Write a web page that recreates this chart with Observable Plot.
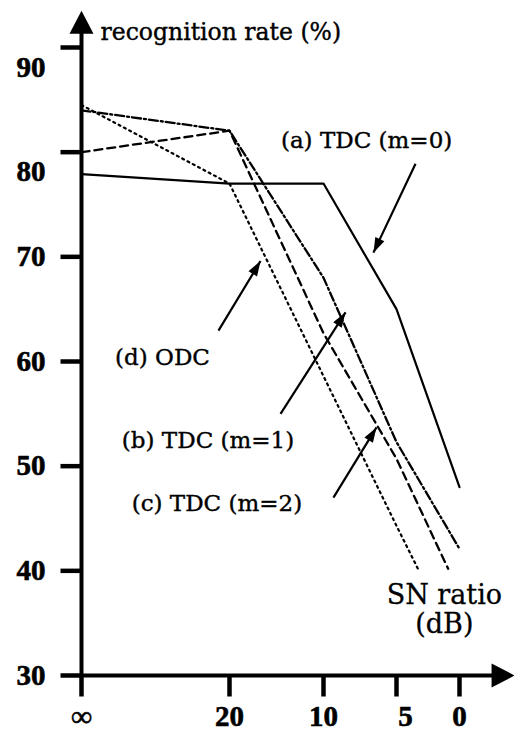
<!DOCTYPE html>
<html>
<head>
<meta charset="utf-8">
<script src="https://cdn.jsdelivr.net/npm/d3@7"></script>
<script src="https://cdn.jsdelivr.net/npm/@observablehq/plot@0.6"></script>
<style>
  html, body { margin: 0; padding: 0; background: #fff; }
  #chart svg { display: block; }
</style>
</head>
<body>
<div id="chart"></div>
<script>
// ---- data (SN ratio in dB; 40 stands for "∞") ----
const xTickValues = [40, 20, 10, 5, 0];
const xTickLabels = ["∞", "20", "10", "5", "0"];
const yTickValues = [30, 40, 50, 60, 70, 80, 90];

// (a) TDC (m=0) — solid
const snA = [40, 20, 10, 5, 0];
const rateA = [77.9, 77.0, 77.0, 65.0, 48.0];
// (b) TDC (m=1) — dash-dot
const snB = [40, 20, 10, 5, 0];
const rateB = [84.0, 82.05, 68.0, 52.3, 42.1];
// (c) TDC (m=2) — dashed
const snC = [40, 20, 10, 5, 0.9];
const rateC = [80.0, 82.05, 62.7, 50.7, 40.2];
// (d) ODC — dotted
const snD = [40, 20, 10, 5, 3.3];
const rateD = [84.5, 77.0, 58.6, 44.3, 40.2];

// annotation labels and their arrows (in data units)
const labelTexts = ["(a) TDC (m=0)", "(d) ODC", "(b) TDC (m=1)", "(c) TDC (m=2)"];
const labelSN = [7.05, 29.05, 22.9, 21.7];
const labelRate = [81.1, 60.4, 52.4, 46.4];
const arrowSN1 = [3.49, 21.49, 14.57, 9.32];
const arrowRate1 = [78.9, 62.95, 55.0, 47.0];
const arrowSN2 = [6.58, 16.7, 8.49, 6.37];
const arrowRate2 = [70.4, 69.6, 64.7, 53.7];

const titleText = "recognition rate (%)";
const axisTitleText = "SN ratio\n(dB)";
const axisTitleSN = 1.2;
const axisTitleRate = 36.3;

// axis extents (data units)
const yAxisTop = 93.5;    // arrow tip
const yAxisEnd = 91.4;    // shaft end
const xAxisTip = -4.37;   // arrow tip
const xAxisEnd = -2.8;    // shaft end

// ---- scales ----
const xDomain = [40, 20, 10, 5, 0];
const xRange = [81, 229, 323, 396, 459];
const yDomain = [30, 90];
const yRange = [675, 47];
const xs = d3.scaleLinear().domain(xDomain).range(xRange);
const ys = d3.scaleLinear().domain(yDomain).range(yRange);

const toPts = (xsArr, ysArr) => xsArr.map((x, i) => ({x, y: ysArr[i]}));
const lineA = toPts(snA, rateA);
const lineB = toPts(snB, rateB);
const lineC = toPts(snC, rateC);
const lineD = toPts(snD, rateD);

const labels = labelTexts.map((t, i) => ({t, x: labelSN[i], y: labelRate[i]}));
const arrows = arrowSN1.map((x1, i) => {
  const x2 = arrowSN2[i], y1 = arrowRate1[i], y2 = arrowRate2[i];
  const dx = xs(x2) - xs(x1), dy = ys(y2) - ys(y1);
  return {x1, y1, x2, y2, rot: Math.atan2(dx, -dy) * 180 / Math.PI};
});

// custom symbols
const headSmall = {draw(ctx) { ctx.moveTo(0, 0); ctx.lineTo(-5, 15); ctx.lineTo(5, 15); ctx.closePath(); }};
const headAxis = {draw(ctx) { ctx.moveTo(0, 0); ctx.lineTo(-12, 23); ctx.lineTo(12, 23); ctx.closePath(); }};
const tickLeft = {draw(ctx) { ctx.moveTo(0, 0); ctx.lineTo(-21, 0); }};
const tickDown = {draw(ctx) { ctx.moveTo(0, 0); ctx.lineTo(0, 21); }};

const ink = "#000";
const serif = "DejaVu Serif";
const boldSerif = "Liberation Serif";

const chart = Plot.plot({
  width: 514,
  height: 731,
  marginLeft: 81,
  marginRight: 55,
  marginTop: 47,
  marginBottom: 56,
  style: {background: "#fff", color: ink, overflow: "visible"},
  x: {type: "linear", domain: xDomain, range: xRange, axis: null},
  y: {type: "linear", domain: yDomain, range: yRange, axis: null},
  marks: [
    // axes
    Plot.ruleX([40], {x: d => d, y1: 30, y2: yAxisEnd, stroke: ink, strokeWidth: 4}),
    Plot.ruleY([30], {y: d => d, x1: 40, x2: xAxisEnd, stroke: ink, strokeWidth: 4}),
    Plot.dot([0], {x: 40, y: yAxisTop, symbol: headAxis, r: 5, fill: ink, stroke: "none", rotate: 0}),
    Plot.dot([0], {x: xAxisTip, y: 30, symbol: headAxis, r: 5, fill: ink, stroke: "none", rotate: 90}),
    Plot.dot(yTickValues, {x: 40, y: d => d, symbol: tickLeft, r: 5, fill: "none", stroke: ink, strokeWidth: 4.5}),
    Plot.dot(xTickValues, {x: d => d, y: 30, symbol: tickDown, r: 5, fill: "none", stroke: ink, strokeWidth: 4.5}),
    // tick labels
    Plot.text(yTickValues.filter(v => v < 80), {x: 40, y: d => d, text: d => String(d), dx: -36, textAnchor: "end",
      fontFamily: boldSerif, fontWeight: "bold", fontSize: 29, fill: ink, stroke: ink, strokeWidth: 0.6}),
    Plot.text(yTickValues.filter(v => v >= 80), {x: 40, y: d => d, text: d => String(d), dx: -36, dy: 20, textAnchor: "end",
      fontFamily: boldSerif, fontWeight: "bold", fontSize: 29, fill: ink, stroke: ink, strokeWidth: 0.6}),
    Plot.text(xTickValues.filter(v => v !== 5), {x: d => d, y: 30, text: d => xTickLabels[xTickValues.indexOf(d)], dy: 41,
      fontFamily: boldSerif, fontWeight: "bold", fontSize: 29, fill: ink, stroke: ink, strokeWidth: 0.6}),
    Plot.text(xTickValues.filter(v => v === 5), {x: d => d, y: 30, text: d => xTickLabels[xTickValues.indexOf(d)], dy: 41, dx: 9,
      fontFamily: boldSerif, fontWeight: "bold", fontSize: 29, fill: ink, stroke: ink, strokeWidth: 0.6}),
    // titles
    Plot.text([titleText], {x: 40, y: 91.4, text: d => d, dx: 19, textAnchor: "start", fontFamily: serif, fontSize: 23.5,
      fill: ink, stroke: ink, strokeWidth: 0.4}),
    Plot.text([axisTitleText], {x: axisTitleSN, y: axisTitleRate, text: d => d, textAnchor: "middle", lineHeight: 1.05,
      fontFamily: serif, fontSize: 27, fill: ink, stroke: ink, strokeWidth: 0.3}),
    // data lines
    Plot.line(lineA, {x: "x", y: "y", stroke: ink, strokeWidth: 2.2}),
    Plot.line(lineB, {x: "x", y: "y", stroke: ink, strokeWidth: 2.3, strokeDasharray: "9,3,2,3"}),
    Plot.line(lineC, {x: "x", y: "y", stroke: ink, strokeWidth: 2.3, strokeDasharray: "8,5"}),
    Plot.line(lineD, {x: "x", y: "y", stroke: ink, strokeWidth: 2.2, strokeDasharray: "2,4"}),
    // annotations
    Plot.link(arrows, {x1: "x1", y1: "y1", x2: "x2", y2: "y2", stroke: ink, strokeWidth: 2.2}),
    Plot.dot(arrows, {x: "x2", y: "y2", rotate: "rot", symbol: headSmall, r: 5, fill: ink, stroke: "none"}),
    Plot.text(labels, {x: "x", y: "y", text: "t", fontFamily: serif, fontSize: 23, fill: ink, stroke: ink, strokeWidth: 0.4})
  ]
});
document.getElementById("chart").appendChild(chart);
</script>
</body>
</html>
